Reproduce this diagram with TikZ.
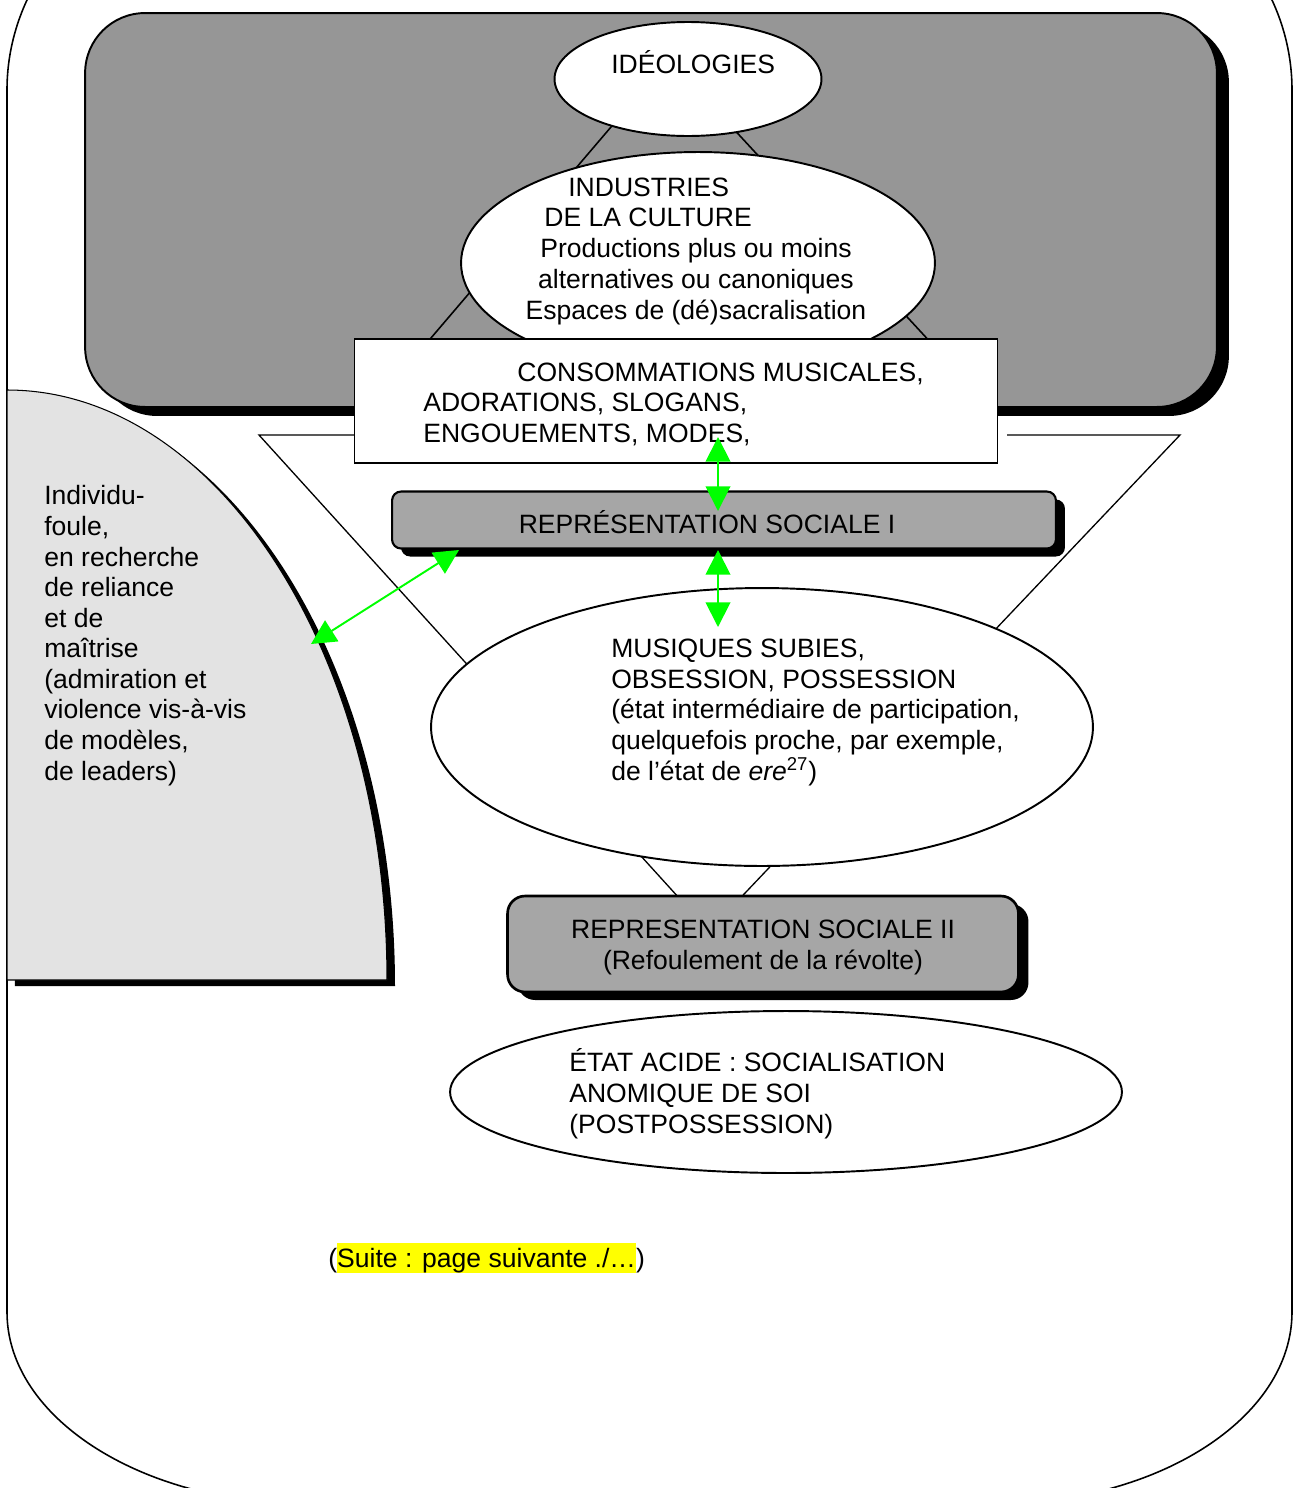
\documentclass[tikz,border=0pt]{standalone}
\usepackage{fontspec}
\setmainfont{Liberation Sans}
\usepackage{xcolor}
\usepackage{tikz}
\usetikzlibrary{shapes.geometric,arrows.meta,shadows}
\definecolor{panel}{HTML}{969696}
\definecolor{boxgray}{HTML}{A6A6A6}
\definecolor{crowd}{HTML}{E3E3E3}
\definecolor{arrowgreen}{HTML}{00FF00}
\definecolor{suitebg}{HTML}{FFFF00}
\newcommand{\txtsize}{\fontsize{15.1}{17.4}\selectfont}
\newcommand{\hilite}[1]{{\setlength{\fboxsep}{0pt}\colorbox{suitebg}{\rule[-2.8pt]{0pt}{16.5pt}#1}}}
\tikzset{
  outline/.style={draw=black, line width=0.9pt},
  funnel/.style={draw=black, line width=0.75pt, line join=miter},
  bubble/.style={ellipse, draw=black, fill=white, line width=1.1pt, inner sep=0pt},
  dropped/.style 2 args={drop shadow={shadow xshift=#1, shadow yshift=#2, fill=black, opacity=1}},
  panelbox/.style={rectangle, draw=black, fill=panel, line width=1.1pt, rounded corners=1.2cm},
  repbox/.style={rectangle, draw=black, fill=boxgray, line width=1.2pt},
  wbox/.style={rectangle, draw=black, fill=white, line width=0.6pt},
  lab/.style={text=black, font=\txtsize, inner sep=0pt, anchor=base west, align=left},
  labc/.style={lab, anchor=base, align=center},
  bilink/.style={draw=arrowgreen, line width=1.1pt,
    {Triangle[length=14pt,width=14pt]}-{Triangle[length=14pt,width=14pt]}}
}

\begin{document}
\begin{tikzpicture}[x=0.02cm, y=-0.02cm]
  \useasboundingbox (0,0) rectangle (1297,1488);
  \clip (0,0) rectangle (1297,1488);
  % outer frame
  \draw[outline] (307,-160) .. controls (141,-160) and (7,-48) .. (7,90)
    -- (7,1312) .. controls (7,1418) and (142,1504) .. (308,1504)
    -- (992,1504) .. controls (1158,1504) and (1292,1418) .. (1292,1312)
    -- (1292,90) .. controls (1292,-48) and (1158,-160) .. (992,-160) -- cycle;

  % upper panel
  \node[panelbox, dropped={0.24cm}{-0.18cm}, minimum width=22.64cm, minimum height=7.88cm] (panel) at (651,210) {};
  \coordinate (apex) at (669,59);
  \draw[outline] (425,345) -- (apex) -- (933,345);
  \node[bubble, minimum width=5.34cm, minimum height=2.28cm] (ideo) at (688,79) {};
  \node[lab] (ideotxt) at (611,73) {IDÉOLOGIES};
  \node[bubble, minimum width=9.48cm, minimum height=4.44cm] (indus) at (698,263) {};
  \node[lab] (indus1) at (568,196) {INDUSTRIES};
  \node[lab] (indus2) at (544,226) {DE LA CULTURE};
  \node[labc] (indus3) at (696,319) {Productions plus ou moins\\alternatives ou canoniques\\Espaces de (dé)sacralisation};

  % funnel
  \coordinate (fl) at (259,435);
  \coordinate (fr) at (1180,435);
  \coordinate (fa) at (709,931);
  \draw[funnel] (354,435) -- (fl) -- (fa) -- (fr) -- (1007,435);

  \node[wbox, minimum width=12.88cm, minimum height=2.48cm] (conso) at (676,401) {};
  \node[lab] (conso1) at (517,381) {CONSOMMATIONS MUSICALES,};
  \node[lab] (conso2) at (423,442) {ADORATIONS, SLOGANS,\\ENGOUEMENTS, MODES,};

  % individu-foule
  \filldraw[fill=crowd, draw=black, line width=0.6pt, dropped={0.16cm}{-0.12cm}]
    (7,390) .. controls (217,390) and (387,654) .. (387,980) -- (7,980) -- cycle;
  \node[lab] (crowdtxt) at (44,780) {Individu-\\foule,\\en recherche\\de reliance\\et de\\maîtrise\\(admiration et\\violence vis-à-vis\\de modèles,\\de leaders)};

  \node[repbox, rounded corners=0.18cm, dropped={0.18cm}{-0.16cm}, minimum width=13.28cm, minimum height=1.14cm] (rs1) at (724,520) {};
  \node[labc] (rs1txt) at (707,533) {REPRÉSENTATION SOCIALE I};

  \node[bubble, minimum width=13.24cm, minimum height=5.56cm] (musiq) at (762,727) {};
  \node[lab] (musiqtxt) at (611,780) {MUSIQUES SUBIES,\\OBSESSION, POSSESSION\\(état intermédiaire de participation,\\quelquefois proche, par exemple,\\de l’état de \textit{ere}\textsuperscript{27})};

  \node[repbox, line width=1.5pt, rounded corners=0.35cm, dropped={0.2cm}{-0.16cm}, minimum width=10.22cm, minimum height=1.92cm] (rs2) at (763,944) {};
  \node[labc] (rs2txt) at (763,969) {REPRESENTATION SOCIALE II\\(Refoulement de la révolte)};

  \node[bubble, minimum width=13.44cm, minimum height=3.24cm] (acide) at (786,1092) {};
  \node[lab] (acidetxt) at (569,1133) {ÉTAT ACIDE : SOCIALISATION\\ANOMIQUE DE SOI\\(POSTPOSSESSION)};

  \node[lab] (suite) at (328,1267) {(\hilite{Suite : page suivante ./…})};

  % green links
  \coordinate (modes) at (718,437);
  \coordinate (rs1in) at (718,511);
  \coordinate (rs1out) at (718,550);
  \coordinate (musiqin) at (718,627);
  \coordinate (rs1left) at (459,550);
  \coordinate (crowdedge) at (311,644);
  \draw[bilink] (modes) -- (rs1in);
  \draw[bilink] (rs1out) -- (musiqin);
  \draw[bilink] (rs1left) -- (crowdedge);
\end{tikzpicture}
\end{document}
